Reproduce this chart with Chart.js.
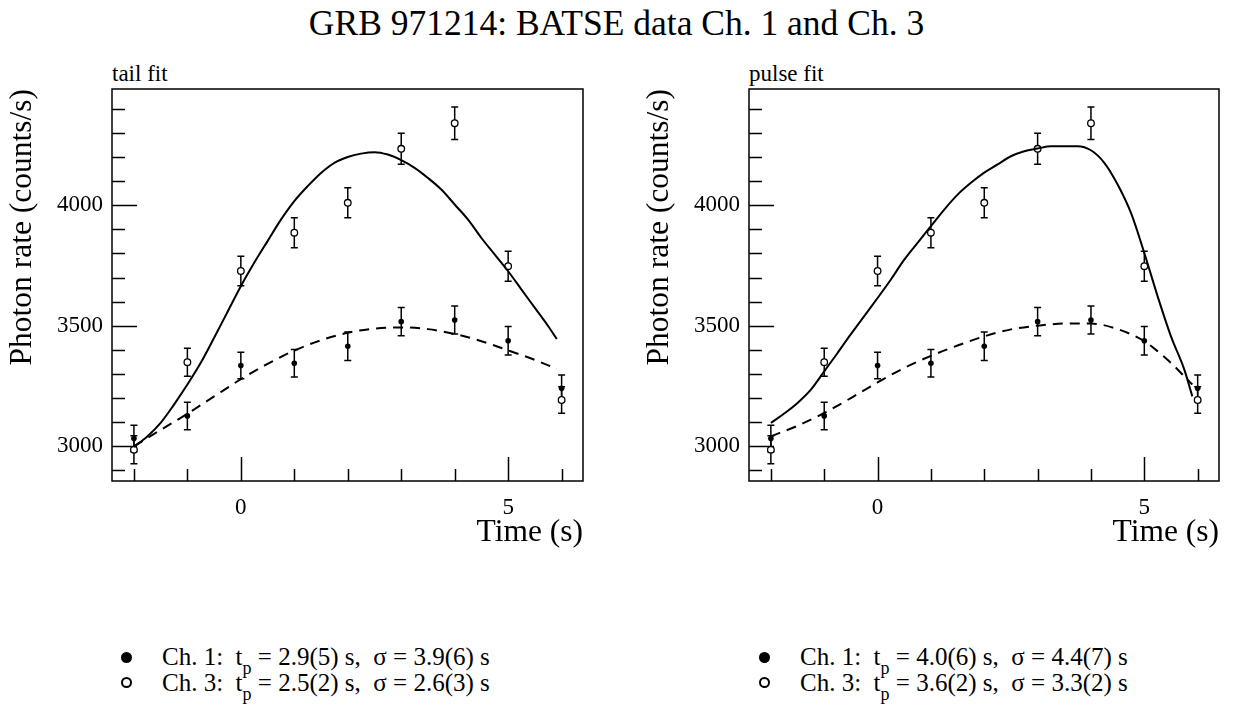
<!DOCTYPE html>
<html>
<head>
<meta charset="utf-8">
<script src="https://cdn.jsdelivr.net/npm/chart.js@4.4.1/dist/chart.umd.min.js"></script>
<style>
body { margin:0; width:1233px; height:711px; background:#fff; position:relative; overflow:hidden;
       font-family:"Liberation Serif","Times New Roman",serif; color:#000; }
canvas { position:absolute; top:0; }
#c1 { left:0; }
#c2 { left:637px; }
.txt { position:absolute; white-space:pre; }
#title { left:0; width:1233px; text-align:center; top:3px; font-size:35.5px; line-height:40px; }
.sub { font-size:23px; line-height:26px; top:61px; }
.leg { font-size:25px; line-height:26px; }
.dot { position:absolute; width:11px; height:11px; border-radius:50%; box-sizing:border-box; }
.dot.full { background:#000; }
.dot.open { border:2px solid #000; background:#fff; }
sub { font-size:18px; vertical-align:-9px; line-height:0; }
</style>
</head>
<body>
<div id="title" class="txt">GRB 971214: BATSE data Ch. 1 and Ch. 3</div>
<div class="txt sub" style="left:112px">tail fit</div>
<div class="txt sub" style="left:749px">pulse fit</div>
<canvas id="c1" width="616" height="560"></canvas>
<canvas id="c2" width="596" height="560"></canvas>

<div class="dot full" style="left:121px;top:652px"></div>
<div class="txt leg" style="left:162px;top:644px">Ch. 1:  t<sub>p</sub> = 2.9(5) s,  σ = 3.9(6) s</div>
<div class="dot open" style="left:121px;top:677px"></div>
<div class="txt leg" style="left:162px;top:670px">Ch. 3:  t<sub>p</sub> = 2.5(2) s,  σ = 2.6(3) s</div>

<div class="dot full" style="left:759px;top:652px"></div>
<div class="txt leg" style="left:800px;top:644px">Ch. 1:  t<sub>p</sub> = 4.0(6) s,  σ = 4.4(7) s</div>
<div class="dot open" style="left:759px;top:677px"></div>
<div class="txt leg" style="left:800px;top:670px">Ch. 3:  t<sub>p</sub> = 3.6(2) s,  σ = 3.3(2) s</div>

<script>
// measured rates (counts/s) per time bin
var times = [-2, -1, 0, 1, 2, 3, 4, 5, 6];
var ch1Rate = [3032, 3126, 3335, 3344, 3415, 3517, 3524, 3438, 3241];
var ch1Err = [55, 57, 55, 57, 59, 59, 58, 59, 55];
var ch3Rate = [2986, 3349, 3727, 3886, 4010, 4234, 4340, 3747, 3192];
var ch3Err = [58, 58, 61, 62, 62, 64, 67, 62, 55];

// fit curves
var tailCh3T = [-2,-1.75,-1.5,-1.25,-1,-0.75,-0.5,-0.25,0,0.25,0.5,0.75,1,1.25,1.5,1.75,2,2.25,2.5,2.75,3,3.25,3.5,3.75,4,4.25,4.5,4.75,5,5.25,5.5,5.75,5.91];
var tailCh3Fit = [2998,3041,3097,3173,3256,3346,3450,3557,3664,3761,3851,3940,4017,4079,4134,4176,4200,4214,4220,4210,4187,4155,4113,4065,4003,3940,3864,3795,3726,3650,3574,3498,3445];
var tailCh1T = [-2,-1.5,-1,-0.5,0,0.5,1,1.5,2,2.5,3,3.5,4,4.5,5,5.5,5.91];
var tailCh1Fit = [3000,3068,3135,3207,3278,3342,3397,3440,3471,3488,3493,3486,3466,3436,3398,3358,3321];

var pulseCh3T = [-2,-1.75,-1.5,-1.25,-1,-0.75,-0.5,-0.25,0,0.25,0.5,0.75,1,1.25,1.5,1.75,2,2.25,2.5,2.75,3,3.25,3.5,3.75,4,4.25,4.5,4.75,5,5.25,5.5,5.75,5.9];
var pulseCh3Fit = [3097,3136,3180,3235,3311,3387,3465,3540,3615,3692,3774,3844,3913,3982,4044,4093,4135,4169,4203,4224,4235,4245,4245,4245,4228,4176,4086,3968,3802,3622,3456,3318,3207];
var pulseCh1T = [-2,-1.5,-1,-0.5,0,0.5,1,1.5,2,2.5,3,3.5,4,4.5,5,5.25,5.5,5.75,5.9];
var pulseCh1Fit = [3041,3085,3138,3200,3265,3325,3375,3418,3456,3485,3500,3509,3509,3486,3436,3394,3346,3290,3256];

var xTickLabels = [0, 5];
var yTickLabels = [3000, 3500, 4000];
var xMinorTicks = [-2, -1, 0, 1, 2, 3, 4, 5, 6];
var yMinorTicks = [2900, 3000, 3100, 3200, 3300, 3400, 3500, 3600, 3700, 3800, 3900, 4000, 4100, 4200, 4300, 4400];

function pts(xs, ys) {
  return xs.map(function (x, i) { return {x: x, y: ys[i]}; });
}

var serif = '"Liberation Serif","Times New Roman",serif';

// error bars under the markers
var errorBars = {
  id: 'errorBars',
  beforeDatasetsDraw: function (chart) {
    var ctx = chart.ctx, xs = chart.scales.x, ys = chart.scales.y;
    ctx.save();
    ctx.strokeStyle = '#000';
    ctx.lineWidth = 1.5;
    [[ch1Rate, ch1Err], [ch3Rate, ch3Err]].forEach(function (s) {
      for (var i = 0; i < times.length; i++) {
        var px = xs.getPixelForValue(times[i]);
        var y1 = ys.getPixelForValue(s[0][i] - s[1][i]);
        var y2 = ys.getPixelForValue(s[0][i] + s[1][i]);
        ctx.beginPath();
        ctx.moveTo(px, y1); ctx.lineTo(px, y2);
        ctx.moveTo(px - 3.5, y1); ctx.lineTo(px + 3.5, y1);
        ctx.moveTo(px - 3.5, y2); ctx.lineTo(px + 3.5, y2);
        ctx.stroke();
      }
    });
    ctx.restore();
  }
};

// box frame with inward ticks
var frame = {
  id: 'frame',
  afterDraw: function (chart) {
    var ctx = chart.ctx, a = chart.chartArea, xs = chart.scales.x, ys = chart.scales.y;
    ctx.save();
    ctx.strokeStyle = '#000';
    ctx.lineWidth = 1.5;
    ctx.strokeRect(a.left, a.top, a.right - a.left, a.bottom - a.top);
    ctx.beginPath();
    yMinorTicks.forEach(function (v) {
      var py = Math.round(ys.getPixelForValue(v)) + 0.5;
      var len = yTickLabels.indexOf(v) >= 0 ? 25 : 13;
      ctx.moveTo(a.left, py); ctx.lineTo(a.left + len, py);
    });
    xMinorTicks.forEach(function (v) {
      var px = Math.round(xs.getPixelForValue(v)) + 0.5;
      var len = xTickLabels.indexOf(v) >= 0 ? 24 : 12;
      ctx.moveTo(px, a.bottom); ctx.lineTo(px, a.bottom - len);
    });
    ctx.stroke();
    ctx.restore();
  }
};

function plain(v) { return String(v); }

function makePanel(id, fitCh3T, fitCh3, fitCh1T, fitCh1, padRight) {
  return new Chart(document.getElementById(id), {
    type: 'scatter',
    data: {
      datasets: [
        { data: pts(fitCh3T, fitCh3), showLine: true, borderColor: '#000', borderWidth: 2,
          pointRadius: 0, cubicInterpolationMode: 'monotone', fill: false },
        { data: pts(fitCh1T, fitCh1), showLine: true, borderColor: '#000', borderWidth: 2,
          borderDash: [10, 7], pointRadius: 0, cubicInterpolationMode: 'monotone', fill: false },
        { data: pts(times, ch1Rate), pointRadius: 2.8, backgroundColor: '#000', borderColor: '#000', borderWidth: 0 },
        { data: pts(times, ch3Rate), pointRadius: 3.3, backgroundColor: '#fff', borderColor: '#000', borderWidth: 1.3 }
      ]
    },
    options: {
      responsive: false,
      animation: false,
      events: [],
      layout: { padding: { left: 0, right: padRight, top: 89, bottom: 0 } },
      plugins: { legend: { display: false }, tooltip: { enabled: false } },
      scales: {
        x: {
          type: 'linear', min: -2.41, max: 6.40,
          grid: { display: false, drawTicks: false }, border: { display: false },
          afterBuildTicks: function (s) { s.ticks = xTickLabels.map(function (v) { return {value: v}; }); },
          afterFit: function (s) { s.height = 79; },
          ticks: { color: '#000', padding: 13, callback: plain, font: { family: serif, size: 23 } },
          title: { display: true, text: 'Time (s)', align: 'end', color: '#000',
                   font: { family: serif, size: 31.5 }, padding: { top: 0, bottom: 8 } }
        },
        y: {
          min: 2856, max: 4482,
          grid: { display: false, drawTicks: false }, border: { display: false },
          afterBuildTicks: function (s) { s.ticks = yTickLabels.map(function (v) { return {value: v}; }); },
          afterFit: function (s) { s.width = 112; },
          ticks: { color: '#000', padding: 9, callback: plain, font: { family: serif, size: 23 } },
          title: { display: true, text: 'Photon rate (counts/s)', align: 'end', color: '#000',
                   font: { family: serif, size: 31.5 }, padding: { top: 4, bottom: 0 } }
        }
      }
    },
    plugins: [errorBars, frame]
  });
}

makePanel('c1', tailCh3T, tailCh3Fit, tailCh1T, tailCh1Fit, 33);
makePanel('c2', pulseCh3T, pulseCh3Fit, pulseCh1T, pulseCh1Fit, 14);
</script>
</body>
</html>
